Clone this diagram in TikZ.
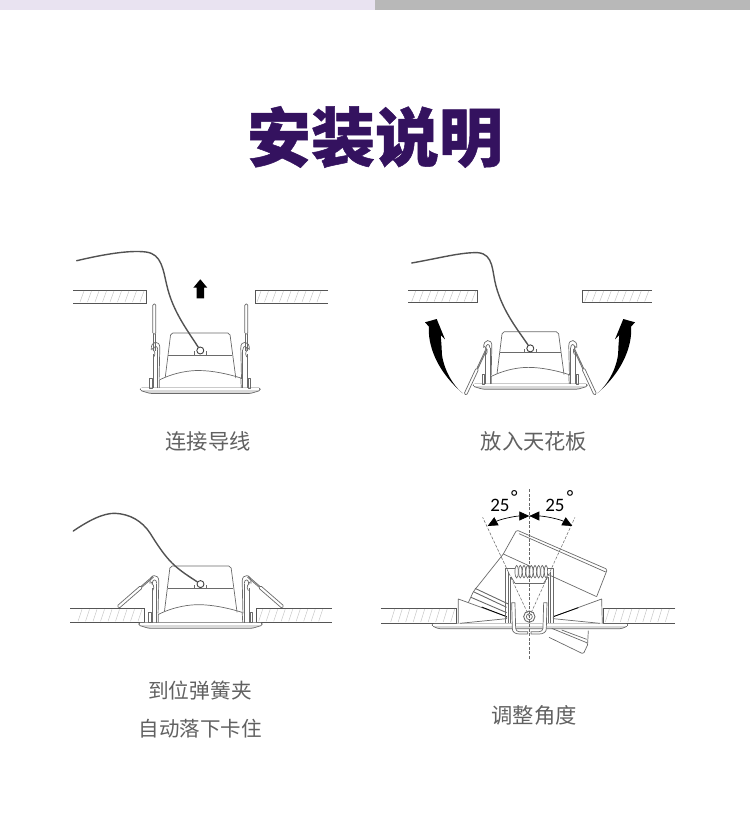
\documentclass[tikz,border=0pt]{standalone}
\usepackage{fontspec}
\usepackage{tikz}
\usetikzlibrary{arrows.meta, positioning}
\newfontfamily\cjk{Noto Sans CJK SC}
\newfontfamily\cjktitle[BoldFeatures={FakeBold=0.8}]{Noto Sans CJK SC}
\newfontfamily\numfont{Carlito}
\definecolor{titulo}{HTML}{34125F}
\definecolor{lila}{HTML}{E9E3F1}
\definecolor{barra}{HTML}{B8B8B8}
\definecolor{linea}{HTML}{6A6A6A}
\tikzstyle{lampline} = [draw=linea, line width=0.7pt, line join=round]
\tikzstyle{lampfill} = [lampline, fill=white]
\tikzstyle{flangefill} = [lampline, fill=gray!30]
\tikzstyle{panel} = [draw=linea!80!black, line width=0.9pt]
\tikzstyle{hatch} = [draw=gray!45, line width=0.5pt]
\tikzstyle{wire} = [draw=black!68, line width=1.4pt, line cap=round]
\tikzstyle{caption} = [font=\cjk\fontsize{21.3}{25}\selectfont, text=black!62, inner sep=0pt]
\tikzstyle{bigtitle} = [font=\cjktitle\bfseries\fontsize{64}{70}\selectfont, text=titulo, inner sep=0pt]
\tikzstyle{terminal} = [circle, lampfill, draw=black!75, line width=0.9pt, inner sep=0pt, minimum size=7pt]
\tikzstyle{axis} = [draw=black!60, line width=0.5pt, dash pattern=on 3pt off 1.5pt]
\tikzstyle{degree} = [font=\numfont\fontsize{19}{22}\selectfont, text=black, inner sep=0pt]
\tikzstyle{swing} = [draw=black, line width=0.7pt, {Triangle[length=10pt,width=9pt]}-{Triangle[length=10pt,width=9pt]}]
% #1 inner end x, #2 top y, #3 signed width, #4 height, #5 direction
\newcommand{\ceilpanel}[5]{
	\draw[panel] (#1+#3,#2) -- (#1,#2) -- (#1,#2+#4) -- (#1+#3,#2+#4);
	\foreach \hx in {4,11.5,...,68}
		\draw[hatch] ({#1+#5*\hx-2},{#2+#4-1}) -- ++(4,{-#4+2});
}
% #1 rod angle, #2 pivot y, #3 rod length
\newcommand{\springclip}[3]{
	\draw[lampline] (-50.5,-10) rectangle (-48,0);
	\draw[lampline] (-47,0) -- (-47,-34) (-42.5,0) -- (-42.5,-38);
	\draw[lampline] (-49,-38) .. controls (-50,-48) and (-40,-48) .. (-40.5,-40) -- (-41.2,-9);
	\draw[lampline] (-47,-37) .. controls (-47,-43) and (-42.5,-43) .. (-42.5,-38);
	\draw[lampline] (-48.5,-40) .. controls (-46,-37) and (-44,-35) .. (-46.5,-31);
	\begin{scope}[shift={(-46,#2)}, rotate=#1]
		\draw[lampline] (0,-0.6) -- (#3-30,-0.6) (0,0.6) -- (#3-30,0.6);
		\draw[lampfill, rounded corners=1.2pt] (#3-30,-1.5) rectangle (#3,1.5);
	\end{scope}
}
% #1 name, #2 x, #3 y, #4 scale, #5 rod angle, #6 pivot y, #7 rod length
\newcommand{\lamp}[7]{
	\begin{scope}[shift={(#2,#3)}, scale=#4]
		\draw[lampline, rounded corners=2pt] (-35,-11) -- (-29.5,-55) -- (29.5,-55) -- (35.5,-10);
		\draw[lampline] (-32,-33) -- (32,-33);
		\draw[lampline] (-41,0) -- (-41,-8) .. controls (-25,-16) and (-10,-17.5) .. (-2,-17.5) .. controls (12,-17.5) and (28,-14) .. (40.5,-10) -- (41,0);
		\draw[flangefill, rounded corners=1.5pt] (-60,0) -- (60,0) -- (60,2.5) -- (50,5.5) -- (-50,5.5) -- (-60,2.5) -- cycle;
		\fill[white] (-59,0.4) rectangle (59,2);
		\draw[lampline] (-6,-33) -- (-6,-37) (6,-33) -- (6,-37);
		\node[terminal] (#1) at (0,-37.5) {};
		\springclip{#5}{#6}{#7}
		\begin{scope}[xscale=-1]
			\springclip{#5}{#6}{#7}
		\end{scope}
	\end{scope}
}
% one half of the bracket of the tilted lamp
\newcommand{\bracketside}{
	\draw[lampline] (-73,430) -- (-73,265) -- (-43,265);
	\draw[lampline] (-63,430) -- (-63,275);
	\draw[lampline] (-58,430) -- (-58,290);
	\draw[lampfill] (-53,368) -- (-43,368) -- (-41,445) .. controls (-40,452) and (-36,455) .. (-30,455) -- (-5,455) -- (-5,462) -- (-30,462) .. controls (-42,462) and (-52,456) .. (-51,445) -- cycle;
	\draw[lampline] (-43,310) -- (-55,290);
}
\newcommand{\swoosh}{
	\fill[black] (462.7,393.3) .. controls (448,381) and (441,360) .. (441.7,348.3) -- (440.7,335) -- (445,339.3) -- (436.7,319) -- (425,322.3) -- (429,326.7) .. controls (428,336) and (430,365) .. (462.7,393.3) -- cycle;
}
\begin{document}
\begin{tikzpicture}[x=1pt, y=-1pt]
	\useasboundingbox (0,0) rectangle (750,838);
	\fill[lila] (0,0) rectangle (375,9.5);
	\fill[barra] (375,0) rectangle (750,9.5);
	\node[bigtitle] (title) at (375,137) {安装说明};

	% panel 1
	\ceilpanel{146}{290}{-73}{13}{-1}
	\ceilpanel{255}{290}{73}{13}{1}
	\lamp{termA}{200.3}{388}{1}{90}{-37}{47}
	\coordinate (wireA) at (76.7,260.7);
	\draw[wire] (wireA) .. controls (105,254) and (130,250) .. (146,252) .. controls (162,254) and (163,270) .. (167,286) .. controls (173,312) and (188,331) .. (termA);
	\fill[black] (196.7,298.3) -- (196.7,287.7) -- (193.3,287.7) -- (200.3,279.3) -- (207.3,287.7) -- (204,287.7) -- (204,298.3) -- cycle;
	\node[caption] (capA) at (208,441) {连接导线};

	% panel 2
	\ceilpanel{477.7}{290}{-69.5}{12.5}{-1}
	\ceilpanel{582.7}{290}{69.5}{12.5}{1}
	\lamp{termB}{530.3}{384}{0.95}{245}{-37}{53}
	\coordinate (wireB) at (411.7,263);
	\draw[wire] (wireB) .. controls (440,258) and (462,252) .. (478,252.7) .. controls (494,254) and (492,272) .. (496,286) .. controls (503,312) and (518,330) .. (termB);
	\swoosh
	\begin{scope}[xscale=-1, shift={(-1060,0)}]
		\swoosh
	\end{scope}
	\node[caption] (capB) at (534,441) {放入天花板};

	% panel 3
	\ceilpanel{144}{608.3}{-74}{14}{-1}
	\ceilpanel{256.7}{608.3}{75}{14}{1}
	\lamp{termC}{200.5}{622.7}{1.03}{221}{-44.7}{45}
	\coordinate (wireC) at (73.3,531);
	\draw[wire] (wireC) .. controls (88,521) and (103,513) .. (115,513.3) .. controls (130,514) and (142,521) .. (150,533) .. controls (158,546) and (165,556) .. (172,563) .. controls (180,571) and (190,577) .. (termC);
	\node[caption, font=\cjk\fontsize{20.7}{25}\selectfont] (capC) at (200,691) {到位弹簧夹};
	\node[caption, font=\cjk\fontsize{20.5}{25}\selectfont, below=18.5pt of capC] (capD) {自动落下卡住};

	% panel 4, read off at three units a pixel
	\ceilpanel{456.7}{608}{-76}{15}{-1}
	\ceilpanel{603.3}{608}{72}{15}{1}
	\begin{scope}[shift={(375,480)}, x=0.3333pt, y=-0.3333pt]
		\draw[lampline, rounded corners=1.5pt] (280,368) -- (295,335) -- (385,222) -- (425,150) -- (697,268) -- (665,350);
		\draw[lampline] (432,161) -- (692,276);
		\draw[lampline] (385,222) -- (665,350);
		\draw[lampline, line width=0.9pt] (300,325) -- (400,372) (295,335) -- (395,382) (288,352) -- (395,398);
		\draw[flangefill, rounded corners=1.5pt] (172,432) -- (758,432) -- (758,438) -- (740,446) -- (190,446) -- (172,438) -- cycle;
		\fill[white] (175,433) rectangle (755,438);
		\draw[lampfill] (250,430) -- (250,357) -- (395,410) -- (395,416) -- (255,430);
		\draw[lampfill] (682,430) -- (680,357) -- (535,410) -- (535,416) -- (675,430);
		\draw[black, line width=0.8pt] (320,381) -- (395,410) (610,383) -- (535,410);
		\draw[lampline, rounded corners=1.5pt] (530,445) -- (640,490) -- (625,522) -- (522,472);
		\draw[lampline] (560,450) -- (635,478) (640,452) -- (638,490);
		\begin{scope}[shift={(463,0)}]
			\bracketside
			\begin{scope}[xscale=-1]
				\bracketside
			\end{scope}
			\draw[lampline] (-43,310) -- (43,310);
			\foreach \kx in {-38,-27,...,50}
				\draw[lampfill] (\kx,275) ellipse [x radius=5, y radius=19];
			\draw[lampfill, line width=0.9pt] (0,410) circle [radius=17];
			\draw[lampline] (0,410) circle [radius=9];
		\end{scope}
		\node[inner sep=0pt, minimum size=0pt] (pivot) at (463,410) {};
		\coordinate (axisTop) at (463,28);
		\coordinate (axisEnd) at (463,540);
		\coordinate (rayL) at (323,112);
		\coordinate (rayR) at (600,112);
		\coordinate (swingL) at (338,138);
		\coordinate (swingLm) at (463,108);
		\coordinate (swingR) at (592,138);
		\draw[axis] (axisTop) -- (axisEnd);
		\draw[axis] (pivot.center) -- (rayL);
		\draw[axis] (pivot.center) -- (rayR);
		\draw[swing] (swingL) .. controls (375,118) and (420,108) .. (swingLm);
		\draw[swing] (swingR) .. controls (555,118) and (510,108) .. (swingLm);
		\node[degree] (degL) at (375,75) {25};
		\node[degree] (degLs) at (418,52) {°};
		\node[degree] (degR) at (540,75) {25};
		\node[degree] (degRs) at (585,51) {°};
	\end{scope}
	\node[caption] (capE) at (534,715) {调整角度};
\end{tikzpicture}
\end{document}
